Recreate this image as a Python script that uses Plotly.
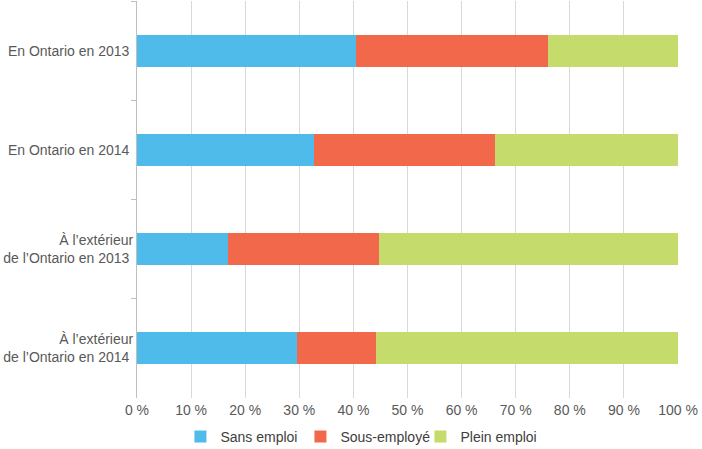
import plotly.graph_objects as go

categories = [
    "En Ontario en 2013",
    "En Ontario en 2014",
    "À l’extérieur<br>de l’Ontario en 2013",
    "À l’extérieur<br>de l’Ontario en 2014",
]
sans_emploi = [40.4, 32.8, 16.9, 29.5]
sous_employe = [35.5, 33.3, 27.8, 14.6]
plein_emploi = [24.1, 33.9, 55.3, 55.9]
series_names = ["Sans emploi", "Sous-employé", "Plein emploi"]
colors = ["#4FBBEA", "#F2684B", "#C5DC6C"]
x_ticks = [0, 10, 20, 30, 40, 50, 60, 70, 80, 90, 100]
x_tick_labels = [f"{v} %" for v in x_ticks]

fig = go.Figure()
for name, vals, col in zip(series_names, [sans_emploi, sous_employe, plein_emploi], colors):
    fig.add_trace(go.Bar(
        y=categories, x=vals, name=name, orientation="h",
        marker=dict(color=col, line=dict(width=0)),
    ))

fig.update_layout(
    barmode="stack",
    bargap=0.676,
    width=702, height=449,
    margin=dict(l=137, r=24, t=1, b=51),
    plot_bgcolor="white", paper_bgcolor="white",
    font=dict(family="Arial, Liberation Sans, sans-serif", size=14, color="#595959"),
    legend=dict(orientation="h", x=0.413, xanchor="center",
                yref="container", y=0.027, yanchor="middle",
                font=dict(size=14, color="#404040"), traceorder="normal",
                itemwidth=30, entrywidth=75),
    showlegend=True,
)
fig.update_xaxes(
    range=[0, 100], tickvals=x_ticks, ticktext=x_tick_labels,
    showgrid=True, gridcolor="#D9D9D9", gridwidth=1,
    zeroline=False, showline=False, ticks="", fixedrange=True,
    ticklabelstandoff=2,
)
fig.update_yaxes(
    autorange="reversed", showline=True, linecolor="#BFBFBF", linewidth=1,
    ticks="outside", tickson="boundaries", ticklen=5, tickcolor="#BFBFBF",
    showgrid=False, ticksuffix=" ", fixedrange=True,
)
fig.write_html("out.html", config={"displayModeBar": False},
               post_script="document.body.style.margin='0';")
